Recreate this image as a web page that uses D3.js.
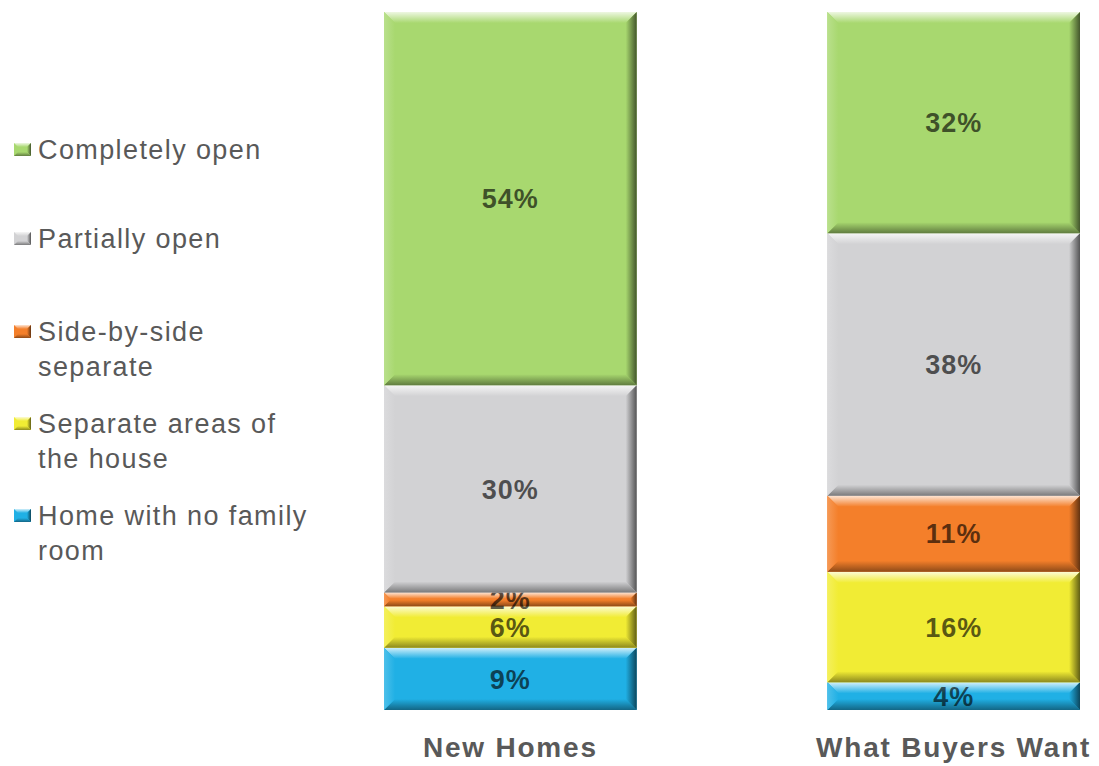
<!DOCTYPE html>
<html>
<head>
<meta charset="utf-8">
<script src="https://cdn.jsdelivr.net/npm/d3@7"></script>
<style>
  html, body { margin: 0; padding: 0; background: #fff; }
  svg { display: block; }
</style>
</head>
<body>
<svg id="chart" width="1099" height="766"></svg>
<script>
// Family-room layout: share of new homes vs. what buyers want (100% stacked)
const categories = ["New Homes", "What Buyers Want"];
const seriesNames = ["Completely open", "Partially open", "Side-by-side separate",
                     "Separate areas of the house", "Home with no family room"];
const legendLines = [["Completely open"], ["Partially open"], ["Side-by-side", "separate"],
                     ["Separate areas of", "the house"], ["Home with no family", "room"]];
const completelyOpen = [54, 32];
const partiallyOpen  = [30, 38];
const sideBySide     = [2, 11];
const separateAreas  = [6, 16];
const noFamilyRoom   = [9, 4];
const seriesColors = ["#a8d86f", "#d2d2d4", "#f47f2a", "#f1ec34", "#20b0e5"];

const seriesValues = [completelyOpen, partiallyOpen, sideBySide, separateAreas, noFamilyRoom];
const rows = categories.map((c, i) => {
  const r = { category: c };
  seriesNames.forEach((s, k) => { r[s] = seriesValues[k][i]; });
  return r;
});

// stack from the bottom: no family room first, completely open on top
const stackOrder = seriesNames.slice().reverse();
const stacked = d3.stack().keys(stackOrder).offset(d3.stackOffsetExpand)(rows);

const svg = d3.select("#chart");
const x = d3.scaleBand().domain(categories).range([384, 1080]).paddingInner(0.43).paddingOuter(0);
const y = d3.scaleLinear().domain([0, 1]).range([710, 12]);
const color = d3.scaleOrdinal().domain(seriesNames).range(seriesColors);

// bevel gradients per series
const defs = svg.append("defs");
seriesNames.forEach((s, k) => {
  const base = d3.color(seriesColors[k]);
  const light = d3.interpolateRgb(base, "#ffffff")(0.8);
  const lightSide = d3.interpolateRgb(base, "#ffffff")(0.2);
  const dark = d3.interpolateRgb(base, "#000000")(0.6);
  const darkBottom = d3.interpolateRgb(base, "#000000")(0.42);
  const mk = (id, x1, y1, x2, y2, c0, c1) => {
    const g = defs.append("linearGradient").attr("id", id)
      .attr("x1", x1).attr("y1", y1).attr("x2", x2).attr("y2", y2);
    g.append("stop").attr("offset", "0%").attr("stop-color", c0);
    g.append("stop").attr("offset", "100%").attr("stop-color", c1);
  };
  mk("top" + k, 0, 0, 0, 1, light, base.formatHex());
  mk("bot" + k, 0, 0, 0, 1, base.formatHex(), darkBottom);
  mk("lft" + k, 0, 0, 1, 0, lightSide, base.formatHex());
  mk("rgt" + k, 0, 0, 1, 0, base.formatHex(), dark);
});

const bars = svg.append("g");
stacked.forEach(layer => {
  const k = seriesNames.indexOf(layer.key);
  layer.forEach(d => {
    const x0 = x(d.data.category), x1 = x0 + x.bandwidth();
    const yTop = y(d[1]), yBot = y(d[0]);
    const h = yBot - yTop;
    const b = Math.min(11, h / 2.2);
    const g = bars.append("g");
    g.append("rect").attr("x", x0).attr("y", yTop).attr("width", x1 - x0).attr("height", h)
      .attr("fill", color(layer.key));
    const poly = (pts, fill) => g.append("polygon")
      .attr("points", pts.map(p => p.join(",")).join(" ")).attr("fill", fill);
    poly([[x0, yTop], [x1, yTop], [x1 - b, yTop + b], [x0 + b, yTop + b]], `url(#top${k})`);
    poly([[x0 + b, yBot - b], [x1 - b, yBot - b], [x1, yBot], [x0, yBot]], `url(#bot${k})`);
    poly([[x0, yTop], [x0 + b, yTop + b], [x0 + b, yBot - b], [x0, yBot]], `url(#lft${k})`);
    poly([[x1 - b, yTop + b], [x1, yTop], [x1, yBot], [x1 - b, yBot - b]], `url(#rgt${k})`);
    g.append("text")
      .attr("x", (x0 + x1) / 2).attr("y", (yTop + yBot) / 2)
      .attr("dy", "0.36em").attr("text-anchor", "middle")
      .attr("font-family", "Liberation Sans, Arial, sans-serif")
      .attr("font-weight", "bold").attr("font-size", 27).attr("letter-spacing", 1)
      .attr("fill", "#000").attr("fill-opacity", 0.64)
      .text(d.data[layer.key] + "%");
  });
});

// category labels
const xAxis = d3.axisBottom(x).tickSize(0).tickPadding(0);
const axisG = svg.append("g").attr("transform", "translate(0,710)").call(xAxis);
axisG.select(".domain").remove();
axisG.selectAll("text")
  .attr("y", 47).attr("dy", 0)
  .attr("font-family", "Liberation Sans, Arial, sans-serif")
  .attr("font-weight", "bold").attr("font-size", 28).attr("letter-spacing", 1.8)
  .attr("fill", "#595959");

// legend
const legendBase = [159, 248, 341, 433, 525];
const legend = svg.append("g");
seriesNames.forEach((s, k) => {
  const g = legend.append("g").attr("transform", `translate(0,${legendBase[k]})`);
  const sw = 17, sh = 13, sx = 14, sy = -16, b = 4;
  g.append("rect").attr("x", sx).attr("y", sy).attr("width", sw).attr("height", sh)
    .attr("fill", color(s));
  g.append("polygon")
    .attr("points", [[sx, sy], [sx + sw, sy], [sx + sw - b, sy + b], [sx + b, sy + b]].map(p => p.join(",")).join(" "))
    .attr("fill", `url(#top${k})`);
  g.append("polygon")
    .attr("points", [[sx + sw - b, sy + b], [sx + sw, sy], [sx + sw, sy + sh], [sx + sw - b, sy + sh - b]].map(p => p.join(",")).join(" "))
    .attr("fill", `url(#rgt${k})`);
  g.append("polygon")
    .attr("points", [[sx + b, sy + sh - b], [sx + sw - b, sy + sh - b], [sx + sw, sy + sh], [sx, sy + sh]].map(p => p.join(",")).join(" "))
    .attr("fill", `url(#bot${k})`);
  g.append("text")
    .attr("x", 38).attr("y", 0)
    .attr("font-family", "Liberation Sans, Arial, sans-serif")
    .attr("font-size", 27).attr("letter-spacing", 1.4)
    .attr("fill", "#595959")
    .selectAll("tspan").data(legendLines[k]).join("tspan")
    .attr("x", 38).attr("dy", (d, i) => i === 0 ? 0 : 35)
    .text(d => d);
});
</script>
</body>
</html>
